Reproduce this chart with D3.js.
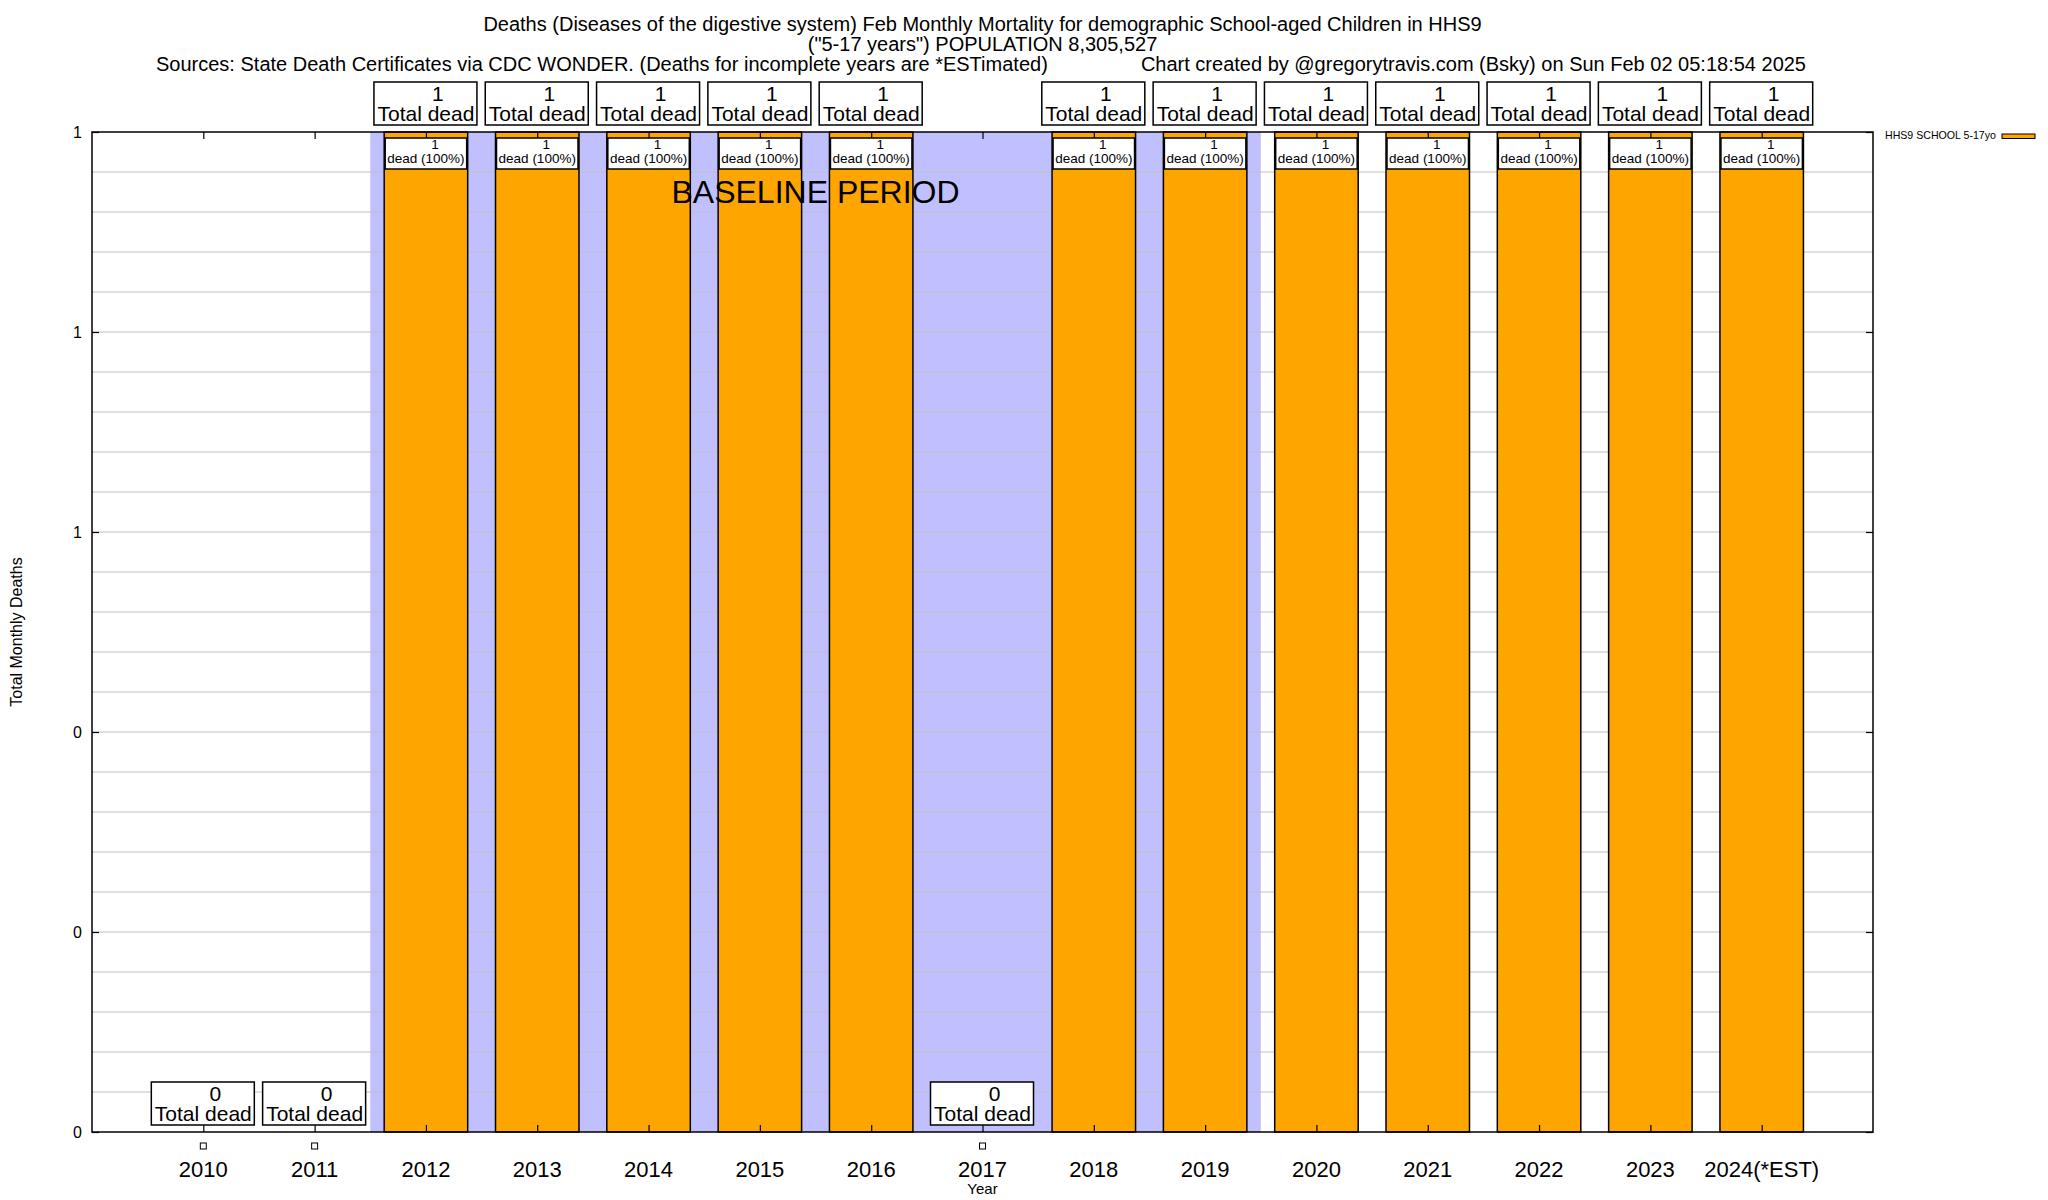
<!DOCTYPE html>
<html>
<head>
<meta charset="utf-8">
<script src="https://cdn.jsdelivr.net/npm/d3@7"></script>
<style>
    body { margin: 0; background: #fff; }
    svg { font-family: "Liberation Sans", Arial, Helvetica, sans-serif; }
</style>
</head>
<body>
<div id="chart"></div>
<script>
// data
const years = ["2010", "2011", "2012", "2013", "2014", "2015", "2016", "2017",
               "2018", "2019", "2020", "2021", "2022", "2023", "2024(*EST)"];
const deaths = [0, 0, 1, 1, 1, 1, 1, 0, 1, 1, 1, 1, 1, 1, 1];
const shares = [0, 0, 100, 100, 100, 100, 100, 0, 100, 100, 100, 100, 100, 100, 100];
const baselineYears = ["2012", "2019"];
const yTicks = [0, 0.2, 0.4, 0.6, 0.8, 1];

const titleLines = [
    "Deaths (Diseases of the digestive system) Feb Monthly Mortality for demographic School-aged Children in HHS9",
    "(\"5-17 years\") POPULATION 8,305,527"
];
const sourceText = "Sources: State Death Certificates via CDC WONDER. (Deaths for incomplete years are *ESTimated)";
const creditText = "Chart created by @gregorytravis.com (Bsky) on Sun Feb 02 05:18:54 2025";
const legendText = "HHS9 SCHOOL 5-17yo";

function drawChart() {
    const width = 2048;
    const height = 1200;
    const margin = { top: 132, bottom: 68, left: 92, right: 175 };
    const barColor = "#ffa500";
    const shadeColor = "#c0c0ff";

    const svg = d3.select("#chart")
        .append("svg")
        .attr("width", width)
        .attr("height", height);

    const x = d3.scaleLinear()
        .domain([-1, years.length])
        .range([margin.left, width - margin.right]);

    const y = d3.scaleLinear()
        .domain([0, 1])
        .range([height - margin.bottom, margin.top]);

    const unit = x(1) - x(0);
    const barW = unit * 0.75;
    const rows = deaths.map((d, i) => ({ v: d, i: i, s: shares[i] }));

    // baseline shading
    const b0 = years.indexOf(baselineYears[0]);
    const b1 = years.indexOf(baselineYears[1]);
    svg.append("rect")
        .attr("x", x(b0 - 0.5))
        .attr("y", y(1))
        .attr("width", x(b1 + 0.5) - x(b0 - 0.5))
        .attr("height", y(0) - y(1))
        .attr("fill", shadeColor);

    // grid lines on every minor tick
    const minor = d3.range(0, 1.0001, 0.04);
    svg.append("g")
        .selectAll("line")
        .data(minor.slice(1, -1))
        .enter()
        .append("line")
        .attr("x1", x(-1))
        .attr("x2", x(years.length))
        .attr("y1", d => y(d))
        .attr("y2", d => y(d))
        .attr("stroke", "#c0c0c0")
        .attr("stroke-width", 1.2);

    // bars
    svg.append("g")
        .selectAll("rect")
        .data(rows.filter(d => d.v > 0))
        .enter()
        .append("rect")
        .attr("x", d => x(d.i) - barW / 2)
        .attr("y", d => y(d.v))
        .attr("width", barW)
        .attr("height", d => y(0) - y(d.v))
        .attr("fill", barColor)
        .attr("stroke", "black")
        .attr("stroke-width", 1.5);

    // axes
    const bottom = y(0);
    const top = y(1);

    svg.append("g")
        .attr("transform", `translate(0,${bottom})`)
        .call(d3.axisBottom(x).tickValues(d3.range(years.length)).tickSize(-7).tickFormat(""))
        .call(g => g.select(".domain").remove())
        .selectAll("line").attr("stroke-width", 1.2);

    svg.append("g")
        .attr("transform", `translate(0,${top})`)
        .call(d3.axisTop(x).tickValues(d3.range(years.length)).tickSize(-7).tickFormat(""))
        .call(g => g.select(".domain").remove())
        .selectAll("line").attr("stroke-width", 1.2);

    svg.append("g")
        .attr("transform", `translate(${x(-1)},0)`)
        .call(d3.axisLeft(y).tickValues(yTicks).tickSize(-7).tickFormat(""))
        .call(g => g.select(".domain").remove())
        .selectAll("line").attr("stroke-width", 1.2);

    svg.append("g")
        .attr("transform", `translate(${x(years.length)},0)`)
        .call(d3.axisRight(y).tickValues(yTicks).tickSize(-7).tickFormat(""))
        .call(g => g.select(".domain").remove())
        .selectAll("line").attr("stroke-width", 1.2);

    svg.append("rect")
        .attr("x", x(-1))
        .attr("y", top)
        .attr("width", x(years.length) - x(-1))
        .attr("height", bottom - top)
        .attr("fill", "none")
        .attr("stroke", "black")
        .attr("stroke-width", 1.5);

    // y tick labels
    svg.append("g")
        .selectAll("text")
        .data(yTicks)
        .enter()
        .append("text")
        .attr("x", x(-1) - 10)
        .attr("y", d => y(d))
        .attr("dy", "0.36em")
        .attr("text-anchor", "end")
        .style("font-size", "16px")
        .text(d => d3.format(".0f")(d));

    // x tick labels
    svg.append("g")
        .selectAll("text")
        .data(years)
        .enter()
        .append("text")
        .attr("x", (d, i) => x(i))
        .attr("y", bottom + 45)
        .attr("text-anchor", "middle")
        .style("font-size", "22px")
        .text(d => d);

    // markers for zero values below the axis
    svg.append("g")
        .selectAll("rect")
        .data(rows.filter(d => d.v === 0))
        .enter()
        .append("rect")
        .attr("x", d => x(d.i) - 3)
        .attr("y", bottom + 11)
        .attr("width", 6)
        .attr("height", 6)
        .attr("fill", "white")
        .attr("stroke", "black")
        .attr("stroke-width", 1);

    // "Total dead" boxes above each bar
    const totals = svg.append("g")
        .selectAll("g")
        .data(rows)
        .enter()
        .append("g")
        .attr("transform", d => `translate(${x(d.i)},${y(d.v)})`);

    totals.append("rect")
        .attr("x", -52)
        .attr("y", -50)
        .attr("width", 103)
        .attr("height", 43)
        .attr("fill", "white")
        .attr("stroke", "black")
        .attr("stroke-width", 1.5);

    totals.append("text")
        .attr("x", 12)
        .attr("y", -31)
        .attr("text-anchor", "middle")
        .style("font-size", "21px")
        .text(d => d.v);

    totals.append("text")
        .attr("x", 0)
        .attr("y", -11)
        .attr("text-anchor", "middle")
        .style("font-size", "21px")
        .text("Total dead");

    // inner share boxes
    const inner = svg.append("g")
        .selectAll("g")
        .data(rows.filter(d => d.v > 0))
        .enter()
        .append("g")
        .attr("transform", d => `translate(${x(d.i)},${y(d.v)})`);

    inner.append("rect")
        .attr("x", -barW / 2 + 1)
        .attr("y", 6)
        .attr("width", barW - 2)
        .attr("height", 31)
        .attr("fill", "white")
        .attr("stroke", "black")
        .attr("stroke-width", 1.5);

    inner.append("text")
        .attr("x", 9)
        .attr("y", 17)
        .attr("text-anchor", "middle")
        .style("font-size", "13.5px")
        .text(d => d.v);

    inner.append("text")
        .attr("x", 0)
        .attr("y", 31)
        .attr("text-anchor", "middle")
        .style("font-size", "13.5px")
        .text(d => `dead (${d.s}%)`);

    // baseline label
    svg.append("text")
        .attr("x", x((b0 + b1) / 2))
        .attr("y", 203)
        .attr("text-anchor", "middle")
        .style("font-size", "32px")
        .text("BASELINE PERIOD");

    // titles
    const midX = (x(-1) + x(years.length)) / 2;
    svg.append("text")
        .attr("x", midX)
        .attr("y", 31)
        .attr("text-anchor", "middle")
        .style("font-size", "20px")
        .text(titleLines[0]);

    svg.append("text")
        .attr("x", midX)
        .attr("y", 51)
        .attr("text-anchor", "middle")
        .style("font-size", "20px")
        .text(titleLines[1]);

    svg.append("text")
        .attr("x", 156)
        .attr("y", 71)
        .style("font-size", "20px")
        .text(sourceText);

    svg.append("text")
        .attr("x", 1806)
        .attr("y", 71)
        .attr("text-anchor", "end")
        .style("font-size", "20px")
        .text(creditText);

    // axis titles
    svg.append("text")
        .attr("x", x(7))
        .attr("y", 1194)
        .attr("text-anchor", "middle")
        .style("font-size", "15px")
        .text("Year");

    svg.append("text")
        .attr("transform", "rotate(-90)")
        .attr("x", -(top + bottom) / 2)
        .attr("y", 22)
        .attr("text-anchor", "middle")
        .style("font-size", "16px")
        .text("Total Monthly Deaths");

    // legend
    svg.append("text")
        .attr("x", 1885)
        .attr("y", 139)
        .style("font-size", "10.6px")
        .text(legendText);

    svg.append("rect")
        .attr("x", 2002)
        .attr("y", 134)
        .attr("width", 33)
        .attr("height", 4.5)
        .attr("fill", barColor)
        .attr("stroke", "black")
        .attr("stroke-width", 1);
}

document.addEventListener("DOMContentLoaded", function(event) {
    drawChart();
});
</script>
</body>
</html>
